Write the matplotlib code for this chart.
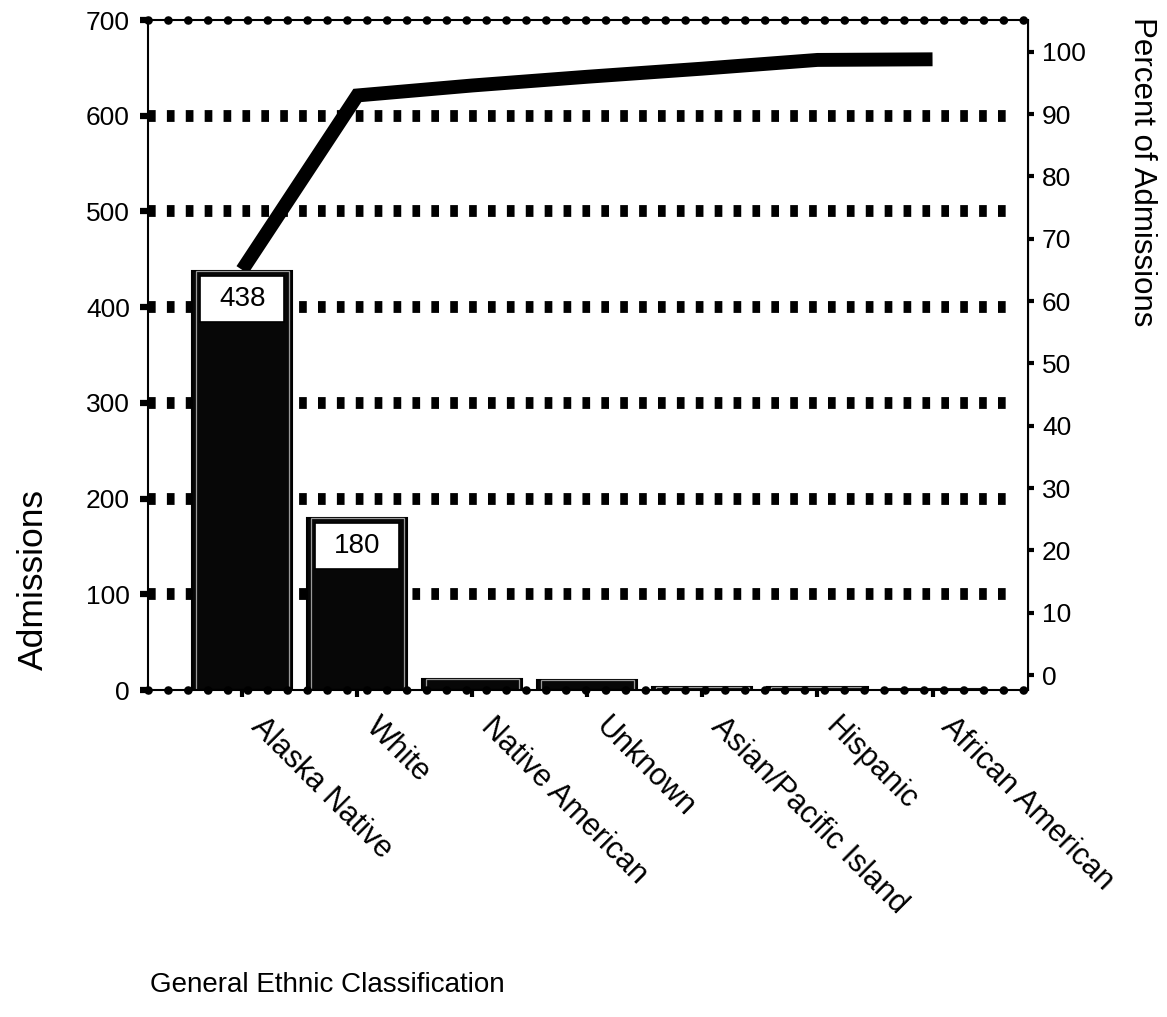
import matplotlib.pyplot as plt
import matplotlib.transforms as mtransforms
from matplotlib.patches import Rectangle
import numpy as np

plt.rcParams['font.family'] = ['Liberation Sans', 'DejaVu Sans']

categories = ["Alaska Native", "White", "Native American", "Unknown",
              "Asian/Pacific Island", "Hispanic", "African American"]
admissions = [438, 180, 12, 11, 3, 3, 1]
cum_percent = [65, 93, 94.6, 96, 97.3, 98.7, 98.8]
labelled = [0, 1]   # bars that carry a value box

left_ticks = [0, 100, 200, 300, 400, 500, 600, 700]
right_ticks = [0, 10, 20, 30, 40, 50, 60, 70, 80, 90, 100]
grid_vals = [100, 200, 300, 400, 500, 600]

fig = plt.figure(figsize=(11.67, 10.17), dpi=100)
ax = fig.add_axes([0.1268, 0.3215, 0.7541, 0.6588])
ax2 = ax.twinx()

x = np.arange(len(categories))
bar_w = 0.87

# dotted grid (square dots) behind the bars
for g in grid_vals:
    ax.axhline(g, xmin=0, xmax=0.985, color='black', lw=8.5,
               linestyle=(0, (0.65, 0.95)), dash_capstyle='butt', zorder=1)

ax.bar(x, admissions, width=bar_w, color='#070707', edgecolor='black',
       lw=1.5, zorder=2)
ax.bar(x, admissions, width=bar_w - 0.06, color='none', edgecolor='#9a9a9a',
       lw=0.9, zorder=2.1)

# value boxes at the top of the first bars
for i in labelled:
    v = admissions[i]
    inset = 0.07
    ax.add_patch(Rectangle((x[i] - bar_w / 2 + inset, v - 54), bar_w - 2 * inset, 49,
                           facecolor='white', edgecolor='black', lw=1.2, zorder=6))
    ax.text(x[i], v - 29.5, str(v), ha='center', va='center', fontsize=20, zorder=7)

# top and bottom borders: thin line with round dots
for yb in (0, 700):
    ax.axhline(yb, color='black', lw=1.5, zorder=4, clip_on=False)
    ax.axhline(yb, color='black', lw=6.2, linestyle=(0, (0.01, 2.3)),
               dash_capstyle='round', zorder=4, clip_on=False)

ax.set_xlim(-0.82, len(categories) - 1 + 0.83)
ax.set_ylim(0, 700)
ax.set_yticks(left_ticks)
ax.tick_params(axis='y', direction='out', length=6, width=4.5, pad=7, labelsize=19)

ax.set_xticks(x)
ax.set_xticklabels(categories, rotation=-45, ha='left', va='center',
                   rotation_mode='anchor', fontsize=22)
ax.tick_params(axis='x', direction='out', length=5, width=3, pad=18)
shift = mtransforms.ScaledTranslation(0.13, 0, fig.dpi_scale_trans)
for lab in ax.get_xticklabels():
    lab.set_transform(lab.get_transform() + shift)

for side in ('top', 'bottom'):
    ax.spines[side].set_visible(False)
    ax2.spines[side].set_visible(False)
ax.spines['left'].set_linewidth(1.5)
ax2.spines['right'].set_linewidth(1.5)
ax2.spines['left'].set_visible(False)

# cumulative percent line
ax2.plot(x, cum_percent, color='black', lw=10, solid_joinstyle='miter',
         solid_capstyle='butt', zorder=5)
ax2.set_ylim(-2.4, 105.1)
ax2.set_yticks(right_ticks)
ax2.tick_params(axis='y', direction='out', length=4, width=3, pad=6, labelsize=19)

# keep the value boxes above the line
ax.set_zorder(ax2.get_zorder() + 1)
ax.patch.set_visible(False)
ax2.set_zorder(0)
ax2.patch.set_visible(False)

fig.text(33 / 1167, 1 - 580 / 1017, 'Admissions', rotation=90,
         ha='center', va='center', fontsize=25.5)
fig.text(1142 / 1167, 1 - 17 / 1017, 'Percent of Admissions', rotation=270,
         ha='center', va='top', fontsize=22.5)
fig.text(150 / 1167, 1 - 985 / 1017, 'General Ethnic Classification',
         ha='left', va='center', fontsize=20)

fig.savefig('out.png', dpi=100, facecolor='white')
